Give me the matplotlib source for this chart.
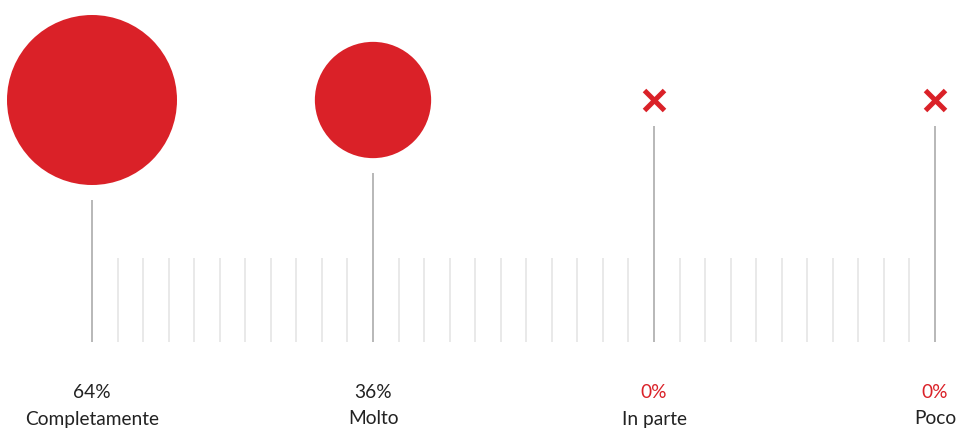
import numpy as np
import matplotlib
matplotlib.use("Agg")
import matplotlib.pyplot as plt
from matplotlib.patches import Ellipse

# data
categories = ["Completamente", "Molto", "In parte", "Poco"]
values = [64, 36, 0, 0]
pct_labels = ["64%", "36%", "0%", "0%"]

RED = "#da2128"
DARK = "#222222"
MAIN_LINE = "#b8b8b8"
MINOR_LINE = "#e3e3e3"

W, H = 958, 430
fig = plt.figure(figsize=(W / 100, H / 100), dpi=100)
ax = fig.add_axes([0, 0, 1, 1])

# x in category units (1 unit = step px), y in pixels from top
step = 281.0
x0 = 92.0
ax.set_xlim(-x0 / step, (W - x0) / step)
ax.set_ylim(H, 0)
ax.axis("off")

px = 1.0 / step  # one pixel in x data units
cy = 100        # centre row of the bubbles
base = 342      # bottom of all vertical lines
minor_top = 258
gap = 15
r_max = 85
vmax = max(values)

xs = np.arange(len(categories))

# minor ticks between categories
for i in xs[:-1]:
    for k in range(1, 11):
        ax.vlines(i + k / 11, minor_top, base, color=MINOR_LINE, lw=1.1, zorder=1)

for i, v in zip(xs, values):
    if v > 0:
        r = r_max * (v / vmax) ** 0.66
        ax.add_patch(Ellipse((i, cy), 2 * r * px, 2 * r, color=RED, lw=0, zorder=3))
        top = cy + r + gap
    else:
        ax.plot(i, cy, marker="x", ms=15, mew=3.6, color=RED, zorder=3)
        top = cy + 11 + gap
    ax.vlines(i, top, base, color=MAIN_LINE, lw=1.4, zorder=2)

for i, v, p, c in zip(xs, values, pct_labels, categories):
    ax.text(i, 392, p, ha="center", va="center", fontsize=13.8,
            family="Lato", color=RED if v == 0 else DARK)
    ax.text(i, 419, c, ha="center", va="center", fontsize=13.8,
            family="Lato", color=DARK)

fig.savefig("out.png", dpi=100)
